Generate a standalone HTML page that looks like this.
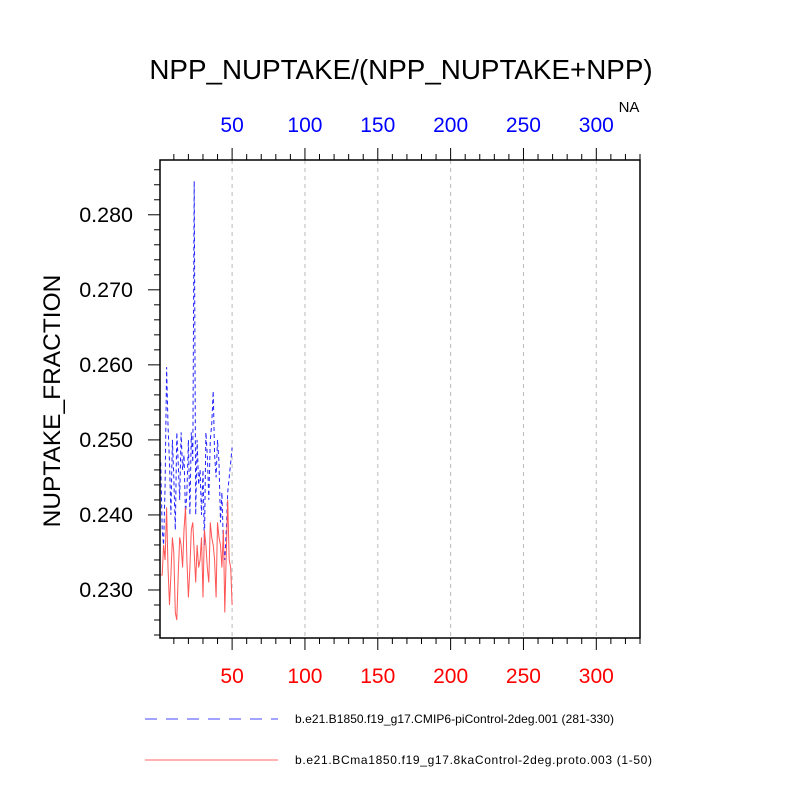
<!DOCTYPE html>
<html><head><meta charset="utf-8"><style>
body{margin:0;background:#fff}
svg text{font-family:"Liberation Sans",Arial,sans-serif}
</style></head><body>
<svg id="chart" width="800" height="800" xmlns="http://www.w3.org/2000/svg">
<rect width="800" height="800" fill="#fff"/>
<text x="401" y="79" font-size="27.8" text-anchor="middle">NPP_NUPTAKE/(NPP_NUPTAKE+NPP)</text>
<text x="629" y="112" font-size="15" text-anchor="middle">NA</text>
<text transform="translate(60,401) rotate(-90)" font-size="24.5" text-anchor="middle">NUPTAKE_FRACTION</text>
<g id="grid"></g><g id="series"></g><g id="axes"></g>
<g>
<line x1="145" y1="719" x2="278" y2="719" stroke="#4444ff" stroke-width="1" stroke-dasharray="12,9"/>
<text x="295" y="723" font-size="12" textLength="319">b.e21.B1850.f19_g17.CMIP6-piControl-2deg.001 (281-330)</text>
<line x1="145" y1="760" x2="278" y2="760" stroke="#ff6666" stroke-width="1"/>
<text x="295" y="764" font-size="12" textLength="357">b.e21.BCma1850.f19_g17.8kaControl-2deg.proto.003 (1-50)</text>
</g>
</svg>
<script>
const blueValues=[0.247,0.238,0.236,0.244,0.2597,0.252,0.247,0.240,0.250,0.245,0.238,0.251,0.247,0.242,0.251,0.246,0.248,0.240,0.243,0.250,0.240,0.251,0.247,0.2845,0.240,0.250,0.244,0.246,0.240,0.246,0.236,0.251,0.248,0.242,0.250,0.252,0.2565,0.248,0.245,0.250,0.247,0.239,0.243,0.236,0.234,0.238,0.243,0.245,0.247,0.249];
const redValues=[0.232,0.232,0.236,0.234,0.241,0.233,0.228,0.232,0.237,0.235,0.227,0.226,0.232,0.237,0.236,0.233,0.238,0.241,0.234,0.229,0.233,0.238,0.239,0.235,0.231,0.236,0.233,0.234,0.237,0.229,0.238,0.236,0.233,0.231,0.239,0.237,0.236,0.234,0.229,0.239,0.237,0.236,0.233,0.238,0.227,0.235,0.242,0.234,0.233,0.228];
const xTicks=[50,100,150,200,250,300];
const yTicks=[0.230,0.240,0.250,0.260,0.270,0.280];
const L=160,R=640,T=160,B=638;
const xMin=0.5,xMax=330,yMin=0.2236,yMax=0.2873;
const sx=v=>L+(v-xMin)/(xMax-xMin)*(R-L);
const sy=v=>B-(v-yMin)/(yMax-yMin)*(B-T);
const NS="http://www.w3.org/2000/svg";
function mk(tag,attrs,parent,text){const e=document.createElementNS(NS,tag);for(const k in attrs)e.setAttribute(k,attrs[k]);if(text!==undefined)e.textContent=text;document.getElementById(parent).appendChild(e);return e;}
xTicks.forEach(t=>{
 const g=mk('line',{x1:sx(t),x2:sx(t),y1:T,y2:B,stroke:'#bbb','stroke-dasharray':'4,4'},'grid');
 
 
});
function path(vals,color,dash,name){
 const d=vals.map((v,i)=>(i?'L':'M')+sx(i+1).toFixed(1)+','+sy(v).toFixed(1)).join('');
 const p=mk('path',{d:d,fill:'none',stroke:color,'stroke-width':1,'stroke-dasharray':dash},'series');
 
 
}
path(blueValues,'#2222ff','4,3','blue-series-line');
path(redValues,'#ff5555','none','red-series-line');
const fr=mk('rect',{x:L,y:T,width:R-L,height:B-T,fill:'none',stroke:'#000','stroke-width':1.5},'axes');


for(let t=10;t<=330;t+=10){
 const major=t%50===0;const len=major?12:6;
 mk('line',{x1:sx(t),x2:sx(t),y1:T,y2:T-len,stroke:'#000','stroke-width':1},'axes');
 mk('line',{x1:sx(t),x2:sx(t),y1:B,y2:B+len,stroke:'#000','stroke-width':1},'axes');
}
for(let k=224;k<=287;k+=2){
 const v=k/1000;const major=k%10===0;const len=major?12:6;
 mk('line',{x1:L,x2:L-len,y1:sy(v),y2:sy(v),stroke:'#000','stroke-width':1},'axes');
}
xTicks.forEach(t=>{
 const a=mk('text',{x:sx(t),y:132,'font-size':21,'text-anchor':'middle',fill:'#0000ff'},'axes',String(t));
 
 
 const b=mk('text',{x:sx(t),y:683,'font-size':21,'text-anchor':'middle',fill:'#ff0000'},'axes',String(t));
 
 
});
yTicks.forEach(t=>{
 const a=mk('text',{x:133,y:sy(t)+7,'font-size':21.5,'text-anchor':'end'},'axes',t.toFixed(3));
 
 
});
</script>
</body></html>
